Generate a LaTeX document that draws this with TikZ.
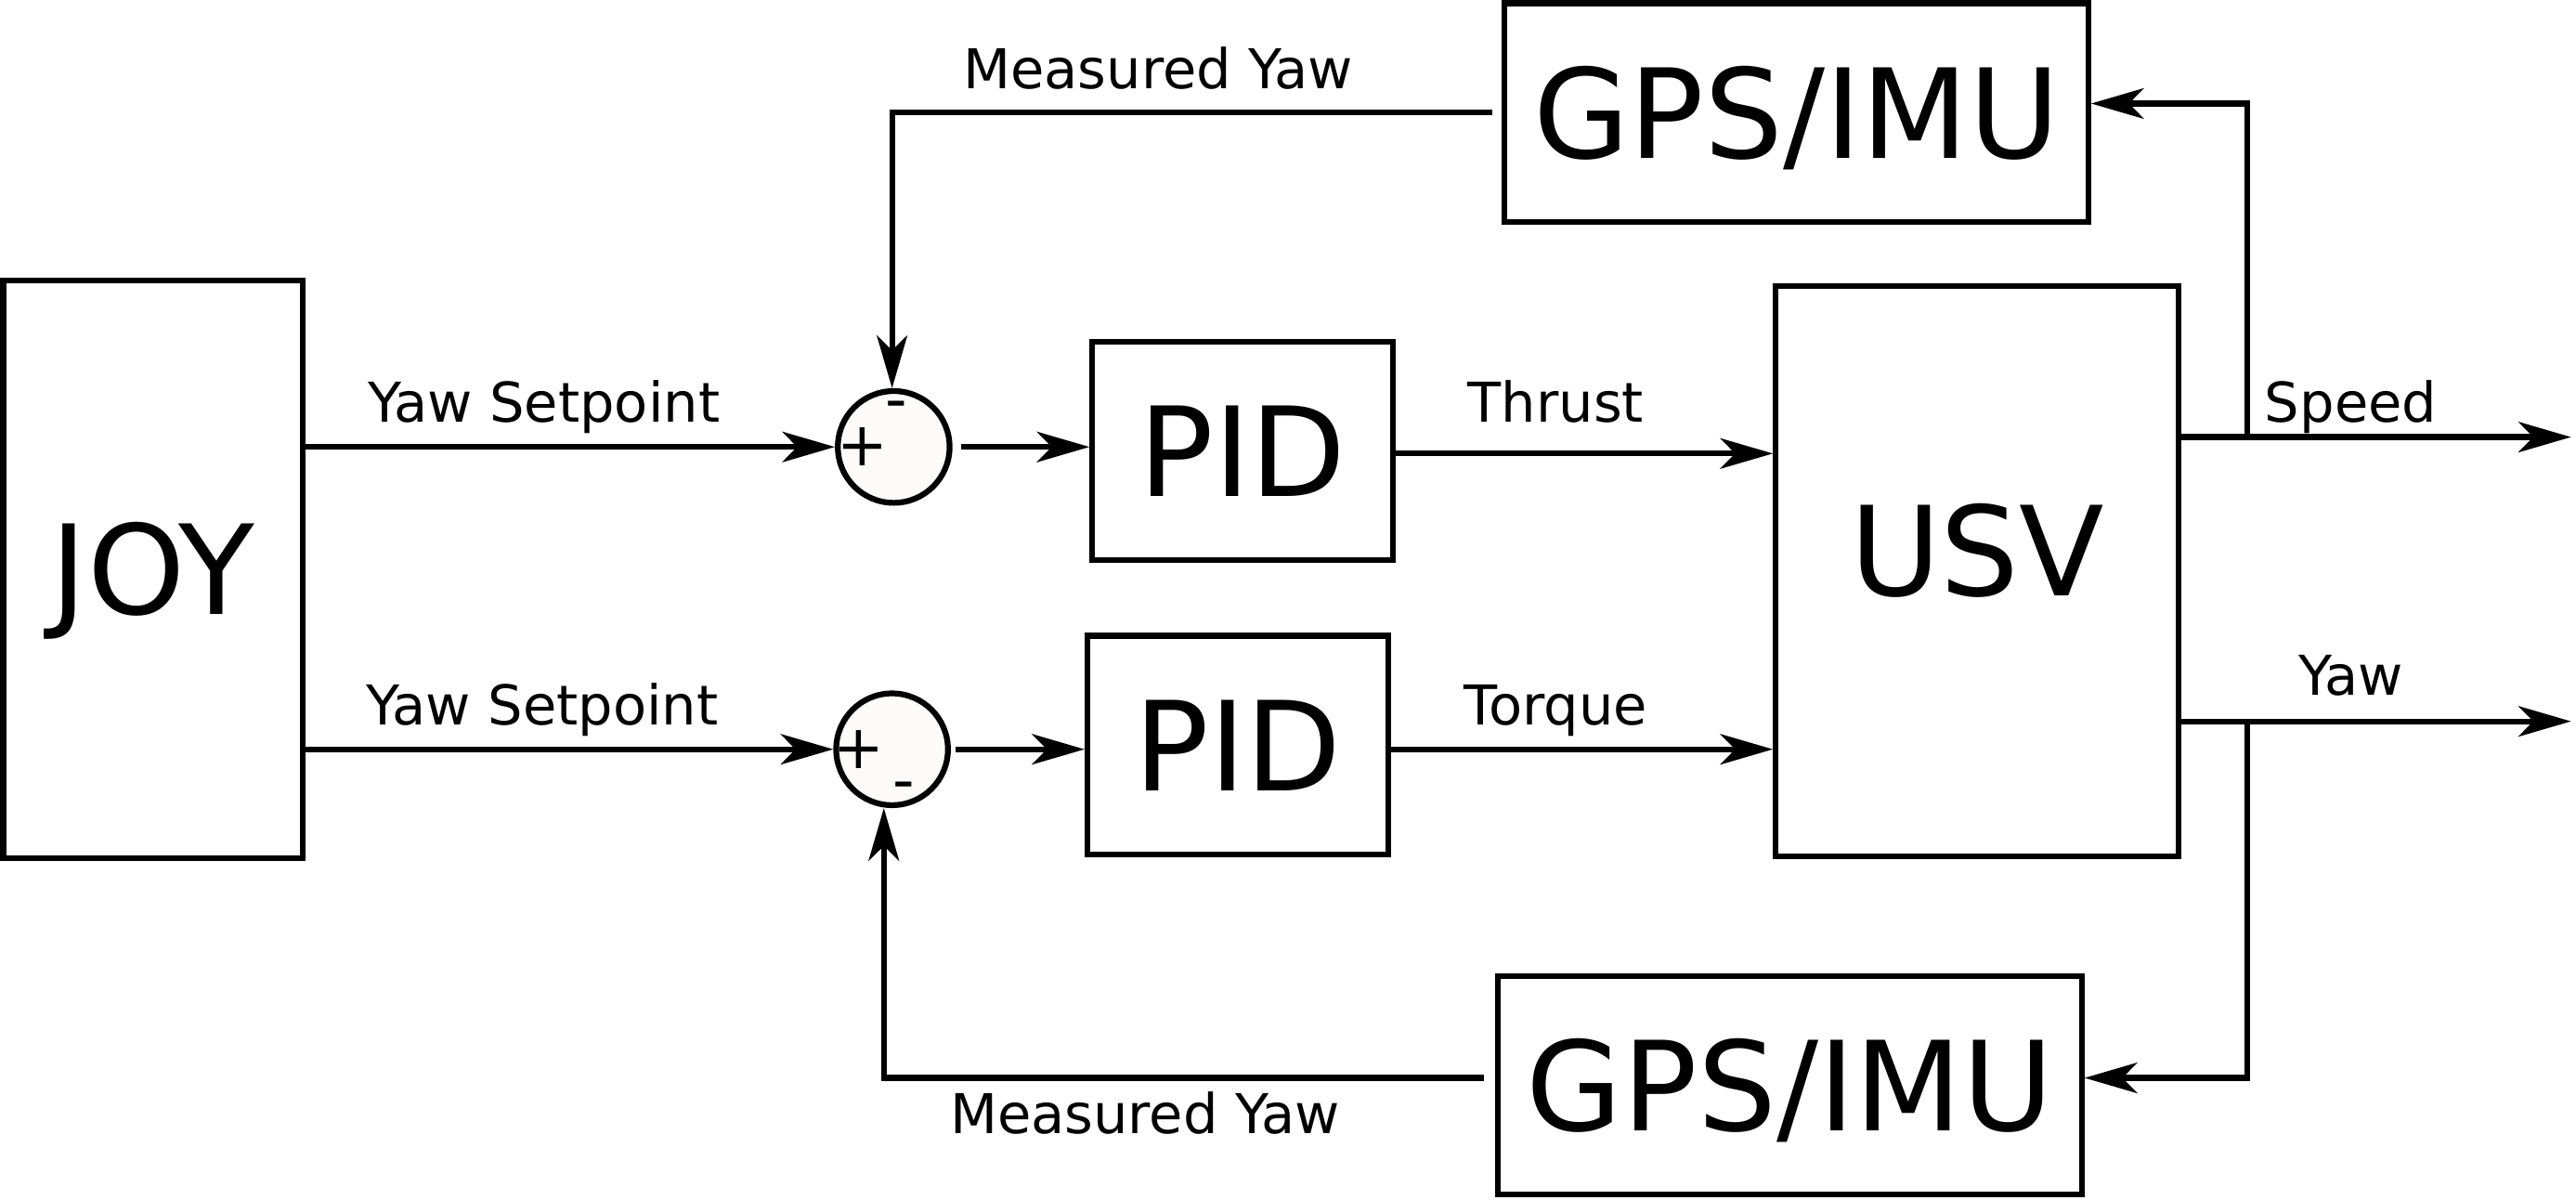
\documentclass[tikz,border=0pt]{standalone}
\usepackage{fontspec}
\setmainfont{DejaVu Sans}
\usetikzlibrary{arrows.meta,calc}
\newcommand\blkfont{\fontsize{21.5pt}{25pt}\selectfont}
\newcommand\lblfont{\fontsize{9.5pt}{11pt}\selectfont}
\newcommand\signfont{\fontsize{10.5pt}{12pt}\selectfont}
\definecolor{sumfill}{HTML}{FDFAFA}
\begin{document}
\begin{tikzpicture}[x=0.01cm,y=-0.01cm,line width=1pt,
  blk/.style={draw,line width=1pt,inner sep=0pt,font=\blkfont,text height=15.7pt,text depth=0pt},
  sumnode/.style={circle,draw,line width=1pt,fill=sumfill,minimum size=0.68cm,inner sep=0pt},
  lbl/.style={font=\lblfont,anchor=base,inner sep=0pt},
  sign/.style={font=\signfont,inner sep=0pt},
  arr/.style={-{Stealth[length=0.32cm,width=0.185cm,inset=0.09cm]}}]
\useasboundingbox (0,0) rectangle (1568,730);
% blocks
\node[blk,minimum width=1.82cm,minimum height=3.51cm] (joy) at (93,346.5) {JOY};
\node[blk,minimum width=3.55cm,minimum height=1.33cm] (gps1) at (1093.5,68.5) {GPS/IMU};
\node[blk,minimum width=1.83cm,minimum height=1.33cm] (pid1) at (756.5,274.5) {PID};
\node[blk,minimum width=1.83cm,minimum height=1.33cm] (pid2) at (753.5,453.5) {PID};
\node[blk,minimum width=2.45cm,minimum height=3.47cm] (usv) at (1203.5,347.5) {};
\node[font=\blkfont,inner sep=0pt,text height=15.7pt,text depth=0pt] (usvtext) at (1203.5,335) {USV};
\node[blk,minimum width=3.55cm,minimum height=1.33cm] (gps2) at (1089.5,660.5) {GPS/IMU};
% summing junctions
\node[sumnode] (sum1) at (544,272) {};
\node[sumnode] (sum2) at (543,456) {};
\node[sign] (s1p) at (525,272) {+};
\node[sign] (s1m) at (545.5,250) {-};
\node[sign] (s2p) at (523,456) {+};
\node[sign] (s2m) at (550,482) {-};
% helper coordinates
\coordinate (thr) at (0,276);
\coordinate (tor) at (0,456);
\coordinate (speedEnd) at (1565,266);
\coordinate (yawEnd) at (1565,439);
\coordinate (tap1) at (1368,266);
\coordinate (tap2) at (1368,439);
% connectors
\draw[arr] ($(joy.east|-sum1)+(-3,0)$) -- (sum1.west);
\draw[arr] ($(joy.east|-sum2)+(-3,0)$) -- (sum2.west);
\draw[arr] ($(sum1.east)+(5,0)$) -- (pid1.west|-sum1);
\draw[arr] ($(sum2.east)+(3,0)$) -- (pid2.west|-sum2);
\draw[arr] ($(pid1.east|-thr)+(-3,0)$) -- (usv.west|-thr);
\draw[arr] ($(pid2.east|-tor)+(-3,0)$) -- (usv.west|-tor);
\draw[arr] (usv.east|-speedEnd) -- (speedEnd);
\draw[arr] (usv.east|-yawEnd) -- (yawEnd);
\draw[arr] (tap1) |- ($(gps1.east)+(0,-5.5)$);
\draw[arr] (tap2) |- ($(gps2.east)+(0,-4.5)$);
\draw[arr] ($(gps1.west)+(-6,0)$) -| ($(sum1.north)+(-1,0)$);
\draw[arr] ($(gps2.west)+(-7,-4.5)$) -| ($(sum2.south)+(-5,0)$);
% labels
\node[lbl] (lmy1) at (705,54) {Measured Yaw};
\node[lbl] (lys1) at (331,257) {Yaw Setpoint};
\node[lbl] (lys2) at (330,441) {Yaw Setpoint};
\node[lbl] (lthr) at (947,257) {Thrust};
\node[lbl] (ltor) at (947,441) {Torque};
\node[lbl] (lspd) at (1431,257) {Speed};
\node[lbl] (lyaw) at (1431,423) {Yaw};
\node[lbl] (lmy2) at (697,690) {Measured Yaw};
\end{tikzpicture}
\end{document}
